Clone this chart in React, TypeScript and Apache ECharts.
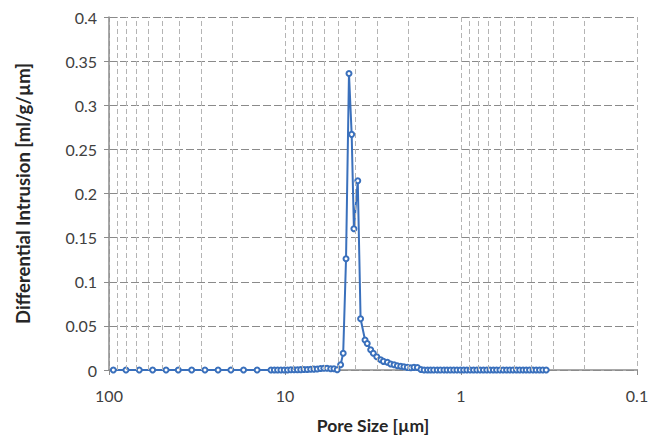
import React, { useEffect, useRef } from "react";
import * as echarts from "echarts";

// Pore size (µm), largest to smallest
const poreSize: number[] = [
  94.5, 80.1, 67.3, 56.5, 47.4, 40.4, 33.9, 28.5, 24.0, 20.3, 17.2, 14.4,
  12.01, 11.5, 11.02, 10.55, 10.1, 9.68, 9.27, 8.88, 8.5, 8.14, 7.8, 7.47, 7.15, 6.85, 6.56, 6.28, 6.02, 5.77,
  5.5, 5.27, 5.05, 4.83, 4.67, 4.5, 4.33, 4.18, 4.06, 3.86, 3.72,
  3.51, 3.41, 3.26, 3.15, 3.01, 2.86, 2.76, 2.62, 2.51, 2.4, 2.3, 2.2, 2.11, 2.02, 1.93, 1.85, 1.77, 1.69,
  1.62, 1.55, 1.49, 1.43, 1.365, 1.31, 1.25, 1.2, 1.15, 1.1, 1.054, 1.009, 0.966, 0.926, 0.887, 0.849,
  0.813, 0.779, 0.746, 0.714, 0.684, 0.655, 0.628, 0.601, 0.576, 0.551, 0.528, 0.506, 0.484, 0.464,
  0.444, 0.426, 0.408, 0.39, 0.374, 0.358, 0.343, 0.328,
];

// Differential intrusion (ml/g/µm)
const intrusion: number[] = [
  0, 0, 0, 0, 0, 0, 0, 0, 0, 0, 0, 0,
  0, 0, 0, 0, 0, 0, 0.0002, 0.0002, 0.0003, 0.0004, 0.0005, 0.0006, 0.0008, 0.001, 0.0012, 0.0018, 0.002, 0.002,
  0.0015, 0.0015, 0.0003, 0.006, 0.019, 0.126, 0.336, 0.267, 0.16, 0.2145, 0.058,
  0.034, 0.03, 0.023, 0.019, 0.015, 0.0116, 0.0098, 0.0087, 0.0068, 0.006, 0.0049, 0.0042, 0.0036, 0.003, 0.0025, 0.003, 0.0028, 0.0005,
  0, 0, 0, 0, 0, 0, 0, 0, 0, 0, 0, 0, 0, 0, 0, 0,
  0, 0, 0, 0, 0, 0, 0, 0, 0, 0, 0, 0, 0, 0,
  0, 0, 0, 0, 0, 0, 0, 0,
];

// Minor (log) gridline positions
const minorGrid: number[] = [
  90, 80, 70, 60, 50, 40, 30, 20,
  9, 8, 7, 6, 5, 4, 3, 2,
  0.9, 0.8, 0.7, 0.6, 0.5, 0.4, 0.3, 0.2,
];

const yTicks = { min: 0, max: 0.4, interval: 0.05 };
const xRange = { min: 0.1, max: 100 };

const FONT = "Lato, 'Open Sans', sans-serif";
const BLUE = "#3a70bc";

export default function App() {
  const ref = useRef<HTMLDivElement>(null);
  useEffect(() => {
    if (!ref.current) return;
    const chart = echarts.init(ref.current, undefined, { renderer: "svg" });
    const data = poreSize.map((x, i) => [x, intrusion[i]]);
    chart.setOption({
      animation: false,
      backgroundColor: "#ffffff",
      textStyle: { fontFamily: FONT },
      grid: { left: 109, right: 28, top: 17, bottom: 67 },
      xAxis: {
        type: "log",
        logBase: 10,
        min: xRange.min,
        max: xRange.max,
        inverse: true,
        name: "Pore Size [µm]",
        nameLocation: "middle",
        nameGap: 46,
        nameTextStyle: { fontFamily: FONT, fontSize: 17.5, fontWeight: "bold", color: "#262626" },
        axisLine: { show: true, onZero: false, lineStyle: { color: "#8c8c8c", width: 1.5 } },
        axisTick: { show: true, inside: false, length: 5, lineStyle: { color: "#8c8c8c" } },
        axisLabel: { fontFamily: FONT, fontSize: 16, color: "#404040", margin: 17 },
        splitLine: { show: true, lineStyle: { color: "#b4b4b4", type: [5, 3], width: 1 } },
      },
      yAxis: {
        type: "value",
        min: yTicks.min,
        max: yTicks.max,
        interval: yTicks.interval,
        name: "Differential Intrusion [ml/g/µm]",
        nameLocation: "middle",
        nameGap: 77,
        nameTextStyle: { fontFamily: FONT, fontSize: 18.5, fontWeight: "bold", color: "#262626" },
        axisLine: { show: true, lineStyle: { color: "#8c8c8c", width: 1.5 } },
        axisTick: { show: true, inside: false, length: 5, lineStyle: { color: "#8c8c8c" } },
        axisLabel: { fontFamily: FONT, fontSize: 16, color: "#404040", margin: 12 },
        splitLine: { show: true, lineStyle: { color: "#8a8a8a", type: [8, 3], width: 1 } },
      },
      series: [
        {
          type: "line",
          data: [],
          silent: true,
          z: 1,
          markLine: {
            silent: true,
            symbol: "none",
            label: { show: false },
            lineStyle: { color: "#b4b4b4", type: [5, 3], width: 1 },
            data: minorGrid.map((v) => ({ xAxis: v })),
          },
        },
        {
          type: "line",
          data,
          z: 3,
          symbol: "emptyCircle",
          symbolSize: 5,
          showAllSymbol: true,
          lineStyle: { color: BLUE, width: 2 },
          itemStyle: { color: BLUE, borderColor: BLUE, borderWidth: 1.3 },
        },
      ],
    });
    return () => chart.dispose();
  }, []);
  return (
    <div
      ref={ref}
      style={{ position: "fixed", left: 0, top: 0, width: 665, height: 439 }}
    />
  );
}
